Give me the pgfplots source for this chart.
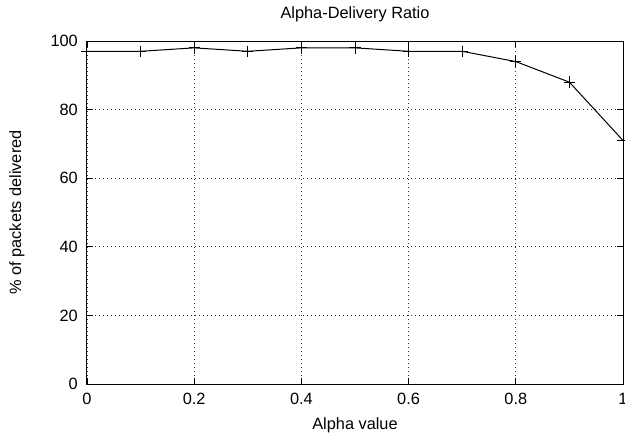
\documentclass[border=0pt]{standalone}
\usepackage{pgfplots}
\pgfplotsset{compat=1.18}
\usepackage{fontspec}
\setmainfont{Liberation Sans}
\begin{document}
\begin{tikzpicture}
\begin{axis}[
  name=ax,
  scale only axis,
  width=321.6pt, height=205.8pt,
  xmin=0, xmax=1, ymin=0, ymax=100,
  xtick={0,0.2,0.4,0.6,0.8,1},
  xticklabels={0,0.2,0.4,0.6,0.8,1},
  ytick={0,20,40,60,80,100},
  /pgf/number format/assume math mode=true,
  tick align=inside,
  major tick length=3.5pt,
  tick style={black, line width=0.5pt},
  axis line style={black, line width=0.6pt},
  grid=major,
  major grid style={dotted, black!80, line width=0.4pt},
  font=\fontsize{9.8}{11}\selectfont,
  xticklabel style={yshift=-2pt},
  yticklabel style={xshift=-2pt},
  xlabel={Alpha value},
  xlabel style={at={(axis description cs:0.5,-0.1195)}, anchor=center},
  ylabel={\% of packets delivered},
  ylabel style={at={(axis description cs:-0.1306,0.5)}, anchor=center},
]
\addplot[black, line width=0.6pt, mark=+, mark size=3.4pt, mark options={line width=0.6pt}] coordinates {
  (0,97) (0.1,97) (0.2,98) (0.3,97) (0.4,98) (0.5,98) (0.6,97) (0.7,97) (0.8,94) (0.9,88) (1.0,71)
};
\end{axis}
\node[anchor=center, font=\fontsize{9.8}{11}\selectfont] at ([yshift=16.2pt]ax.north) {Alpha-Delivery Ratio};
\path (ax.south west) ++(-52.2pt,-32.4pt) coordinate (bbA);
\path (ax.north east) ++(1.2pt,24.6pt) coordinate (bbB);
\pgfresetboundingbox
\path (bbA) rectangle (bbB);
\end{tikzpicture}
\end{document}
